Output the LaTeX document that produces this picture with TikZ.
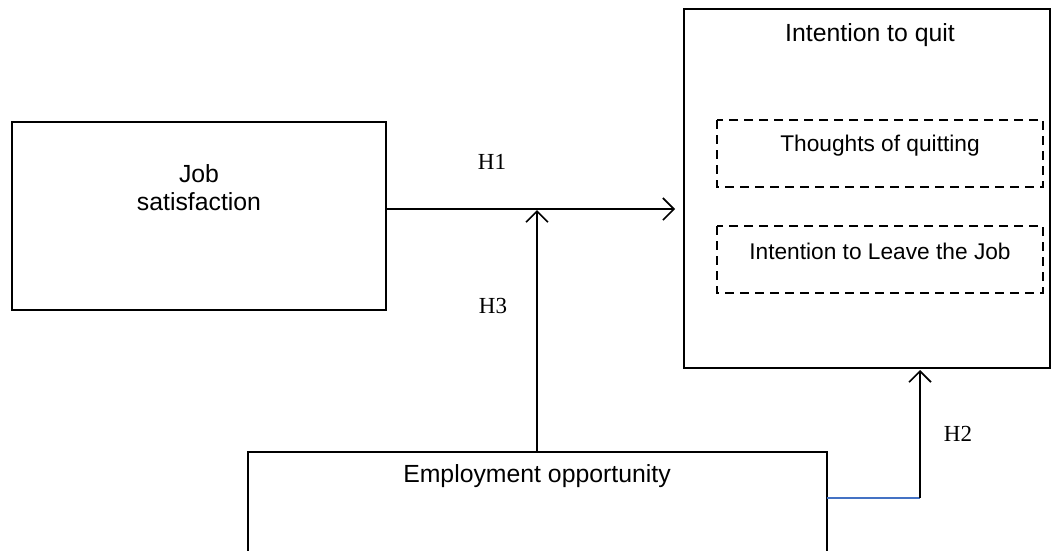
\documentclass[tikz,border=0pt]{standalone}
\usepackage{fontspec}
\setmainfont{Liberation Serif}
\setsansfont{Liberation Sans}
\usetikzlibrary{arrows.meta}
\definecolor{linkblue}{HTML}{4472C4}
\tikzset{
  dbox/.style={draw, dash pattern=on 9pt off 6pt, line width=1.6pt},
  lbl/.style={font=\sffamily\fontsize{24.8}{28}\selectfont, align=center},
  slbl/.style={font=\sffamily\fontsize{22.7}{26}\selectfont, align=center},
  hlbl/.style={font=\rmfamily\fontsize{23}{27}\selectfont},
  conn/.style={line width=1.6pt, -{Straight Barb[length=11pt,width=22pt,line width=1.6pt]}},
}
\begin{document}
\begin{tikzpicture}[x=1pt,y=-1pt]
\useasboundingbox (0,0) rectangle (1052,550);
% boxes
\draw[line width=1.8pt] (12,122) rectangle (386,310);
\coordinate (jsE) at (386,209);
\node[lbl] (js) at (199,188) {Job\\satisfaction};

\draw[line width=1.8pt] (684,9) rectangle (1050,368);
\node[lbl] (iq) at (870,35) {Intention to quit};
\coordinate (iqW) at (675,209);
\coordinate (iqS) at (920,370);

\draw[dbox] (717,120) rectangle (1043,187);
\node[slbl] (tq) at (880,146) {Thoughts of quitting};
\draw[dbox] (717,226) rectangle (1043,293);
\node[slbl] (il) at (880,251) {Intention to Leave the Job};

\draw[line width=1.8pt] (248,560) -- (248,452) -- (827,452) -- (827,560);
\node[lbl] (eo) at (537,476) {Employment opportunity};
\coordinate (eoN) at (537,452);
\coordinate (eoE) at (827,498);
\coordinate (bend) at (920,498);
\coordinate (mid) at (537,210);

% connectors
\draw[conn] (jsE) -- (iqW);
\draw[conn] (eoN) -- (mid);
\draw[line width=1.5pt, linkblue] (eoE) -- (bend);
\draw[conn] (bend) -- (iqS);

% labels
\node[hlbl] (h1) at (492,162) {H1};
\node[hlbl] (h3) at (493,306) {H3};
\node[hlbl] (h2) at (958,434) {H2};
\end{tikzpicture}
\end{document}
